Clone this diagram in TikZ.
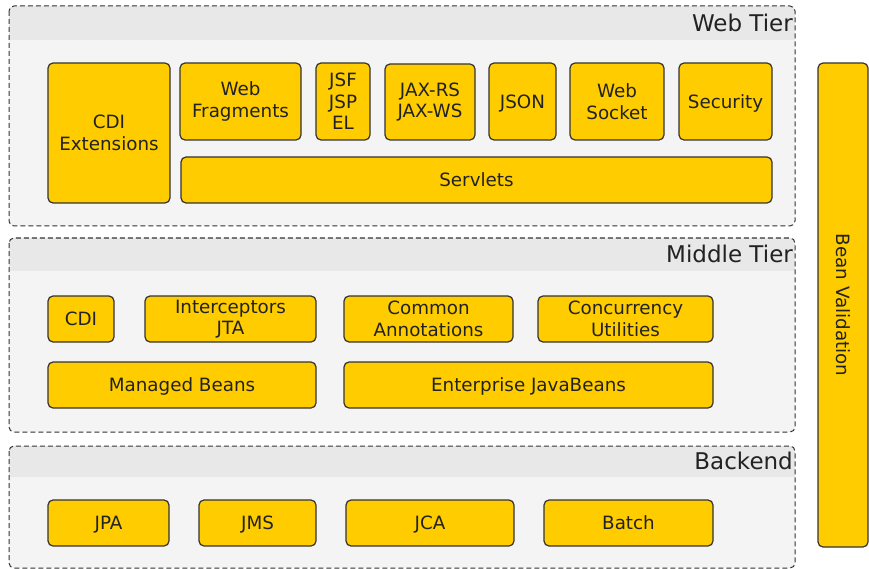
\documentclass[tikz,border=0pt]{standalone}
\usepackage{fontspec}
\setmainfont{DejaVu Sans}
\definecolor{jy}{HTML}{FFCC00}
\definecolor{bd}{HTML}{333333}
\definecolor{cbody}{HTML}{F4F4F4}
\definecolor{chead}{HTML}{E8E8E8}
\definecolor{txt}{HTML}{222222}
\newcommand{\jbox}[7][]{\node[box, #1, minimum width={(#5-#3)*1pt}, minimum height={(#6-#4)*1pt}] (#2) at ({(#3+#5)/2},{(#4+#6)/2}) {#7};}
\newcommand{\jtier}[5]{%
  \begin{scope}
    \fill[cbody, rounded corners=5pt] (9,#1) rectangle (795,#2);
    \clip[rounded corners=5pt] (9,#1) rectangle (795,#2);
    \fill[chead] (9,#1) rectangle (795,#3);
  \end{scope}
  \draw[bd, dashed, dash pattern=on 5pt off 3pt, line width=1pt, rounded corners=5pt] (9,#1) rectangle (795,#2);
  \node[tierlabel] (#5) at (793,{(#1+#3)/2}) {#4};}
\begin{document}
\begin{tikzpicture}[x=1pt,y=-1pt,
  box/.style={draw=bd, fill=jy, rounded corners=5pt, line width=1.2pt, align=center, inner sep=0pt, text=txt, font=\fontsize{18.3}{21.5}\selectfont},
  one/.style={text height=13.4pt, text depth=0pt},
  tierlabel/.style={anchor=east, inner sep=0pt, text=txt, text height=16.5pt, text depth=0pt, font=\fontsize{23}{27}\selectfont}]
\useasboundingbox (0,0) rectangle (869,569);
% tiers
\jtier{6}{226}{40}{Web Tier}{webtier}
\jtier{238}{432}{271}{Middle Tier}{midtier}
\jtier{446}{568}{477}{Backend}{backend}
% web tier
\jbox{cdiext}{48}{63}{170}{203}{CDI\\Extensions}
\jbox{webfrag}{180}{63}{301}{140}{Web\\Fragments}
\jbox{jsf}{316}{63}{370}{140}{JSF\\JSP\\EL}
\jbox{jax}{385}{64}{475}{140}{JAX-RS\\JAX-WS}
\jbox[one]{json}{489}{63}{556}{140}{JSON}
\jbox{websock}{570}{63}{664}{140}{Web\\Socket}
\jbox[one]{security}{679}{63}{772}{140}{Security}
\jbox[one]{servlets}{181}{157}{772}{203}{Servlets}
% middle tier
\jbox[one]{cdi}{48}{296}{114}{342}{CDI}
\jbox{interc}{145}{296}{316}{342}{Interceptors\\JTA}
\jbox{common}{344}{296}{513}{342}{Common\\Annotations}
\jbox{concur}{538}{296}{713}{342}{Concurrency\\Utilities}
\jbox[one]{managed}{48}{362}{316}{408}{Managed Beans}
\jbox[one]{ejb}{344}{362}{713}{408}{Enterprise JavaBeans}
% backend
\jbox[one]{jpa}{48}{500}{169}{546}{JPA}
\jbox[one]{jms}{199}{500}{316}{546}{JMS}
\jbox[one]{jca}{346}{500}{514}{546}{JCA}
\jbox[one]{batch}{544}{500}{713}{546}{Batch}
% bean validation
\jbox{beanval}{818}{63}{868}{547}{}
\node[rotate=-90, text=txt, font=\fontsize{18.3}{21.5}\selectfont, inner sep=0pt, text height=13.4pt, text depth=0pt] (bvlabel) at (843,305) {Bean Validation};
\end{tikzpicture}
\end{document}
